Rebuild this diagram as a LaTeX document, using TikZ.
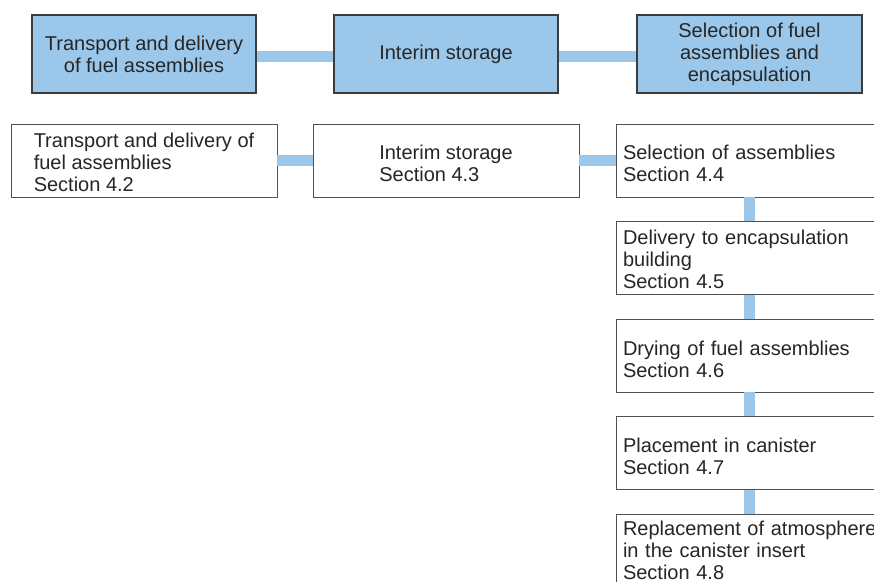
\documentclass[tikz,border=0pt]{standalone}
\usepackage{fontspec}
\setmainfont{Liberation Sans}
\definecolor{skblue}{RGB}{155,199,235}
\definecolor{boxline}{RGB}{60,60,60}
\newcommand{\dnshift}[1]{\rule{0pt}{\dimexpr 15pt+2\dimexpr #1pt\relax\relax}}
\begin{document}
\begin{tikzpicture}[x=1pt,y=1pt,
  txt/.style={font=\fontsize{20}{22}\selectfont, text=black!85},
  topbox/.style={txt, draw=boxline, line width=1.1pt, fill=skblue, minimum width=224pt, minimum height=78pt, align=center, inner sep=0pt},
  lbox/.style={txt, draw=boxline!90, line width=0.9pt, fill=white, minimum width=266pt, minimum height=73pt, align=left, inner sep=0pt},
  rbox/.style={txt, draw=boxline!90, line width=0.9pt, fill=white, text width=252pt, inner xsep=7pt, inner ysep=0pt, minimum height=73pt, align=left},
  conn/.style={skblue, line width=11pt}]
\useasboundingbox (0,0) rectangle (874,-581);
\clip (0,0) rectangle (874,-581);
% top row
\node[topbox] (b1) at (144,-54) {Transport and delivery\\of fuel assemblies};
\node[topbox] (b2) at (446,-54) {Interim storage};
\node[topbox, minimum width=225pt] (b3) at (749.5,-54) {Selection of fuel\\assemblies and\\encapsulation};
\draw[conn] ([yshift=-2pt]b1.east) -- ([yshift=-2pt]b2.west);
\draw[conn] ([yshift=-2pt]b2.east) -- ([yshift=-2pt]b3.west);
% second row
\node[lbox] (a) at (144,-160.5) {\dnshift{2}Transport and delivery of\\fuel assemblies\\Section 4.2};
\node[lbox] (b) at (446,-160.5) {\dnshift{3}Interim storage\\Section 4.3};
\node[rbox] (c1) at (749,-160.5) {\dnshift{3}Selection of assemblies\\Section 4.4};
\node[rbox] (c2) at (749,-258) {\dnshift{1}Delivery to encapsulation\\building\\Section 4.5};
\node[rbox] (c3) at (749,-355.5) {\dnshift{4}Drying of fuel assemblies\\Section 4.6};
\node[rbox] (c4) at (749,-453) {\dnshift{3}Placement in canister\\Section 4.7};
\node[rbox] (c5) at (749,-550.5) {\mbox{Replacement of atmosphere}\\in the canister insert\\Section 4.8};
\draw[conn] (a.east) -- (b.west);
\draw[conn] (b.east) -- (c1.west);
\draw[conn] (c1.south) -- (c2.north);
\draw[conn] (c2.south) -- (c3.north);
\draw[conn] (c3.south) -- (c4.north);
\draw[conn] (c4.south) -- (c5.north);
\end{tikzpicture}
\end{document}
